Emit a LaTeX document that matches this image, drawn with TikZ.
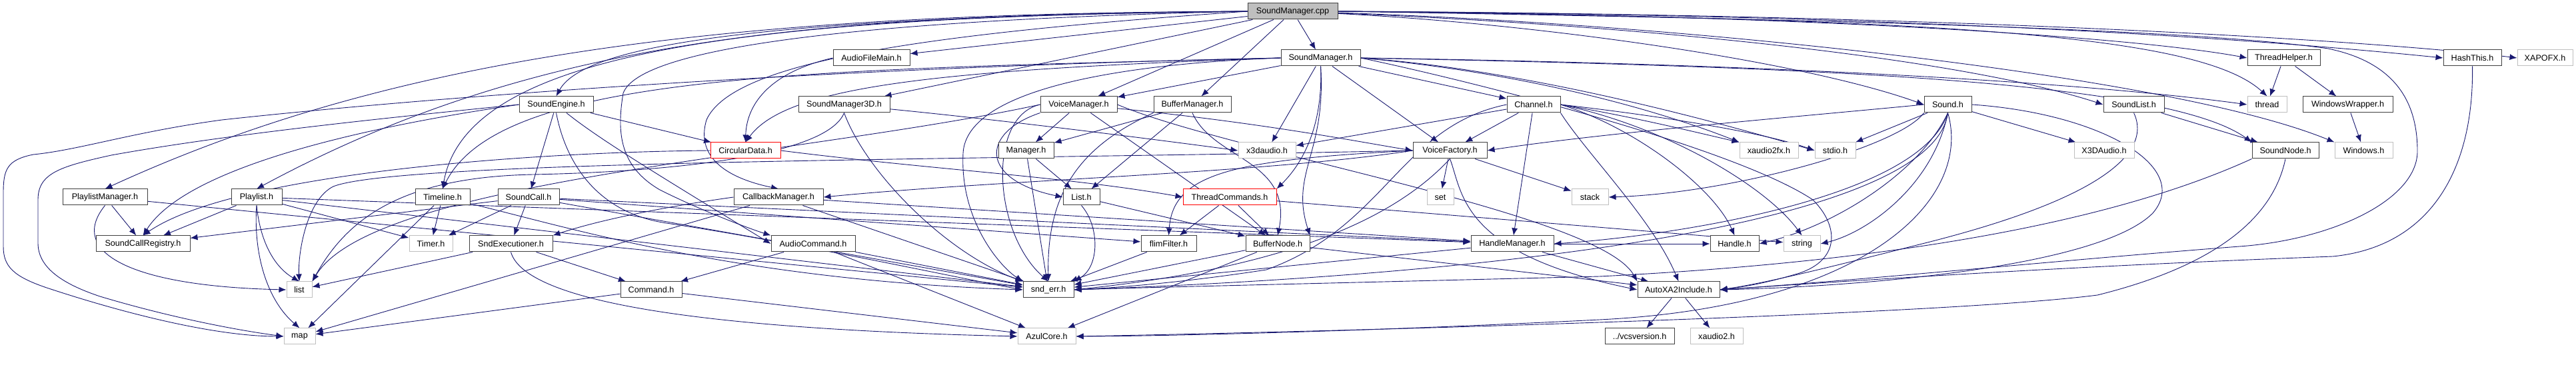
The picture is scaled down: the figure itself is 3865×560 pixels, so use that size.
\documentclass[tikz,border=0pt]{standalone}
\usepackage{fontspec}
\setmainfont{Liberation Sans}
\usetikzlibrary{arrows.meta}
\pgfdeclarelayer{bg}
\pgfsetlayers{bg,main}
\definecolor{edgec}{HTML}{191970}
\definecolor{bdark}{HTML}{404040}
\definecolor{blight}{HTML}{BFBFBF}
\definecolor{sfill}{HTML}{BFBFBF}
\begin{document}
\begin{tikzpicture}[x=0.5pt,y=-0.5pt,
 nb/.style={draw=bdark, line width=0.5pt, fill=white, minimum height=12pt, inner sep=0pt, font=\fontsize{6.3}{7}\selectfont},
 ng/.style={nb, draw=blight},
 nr/.style={nb, draw=red},
 e/.style={draw=edgec, line width=0.45pt, -{Latex[length=5.5pt,width=4.5pt]}}]
\useasboundingbox (0,0) rectangle (3865,560);
% row 0
\node[nb, fill=sfill, minimum width=67.5pt] (S0) at (1939.5,17) {SoundManager.cpp};
% row 1
\node[nb, minimum width=57.5pt] (AFM) at (1307.5,87) {AudioFileMain.h};
\node[nb, minimum width=59.5pt] (SMh) at (1981.5,87) {SoundManager.h};
\node[nb, minimum width=54.5pt] (TH) at (3426.5,87) {ThreadHelper.h};
\node[nb, minimum width=43.5pt] (HT) at (3709.5,87) {HashThis.h};
\node[ng, minimum width=41.5pt] (XAPO) at (3818.5,87) {XAPOFX.h};
% row 2
\node[nb, minimum width=55.5pt] (SE) at (834.5,157) {SoundEngine.h};
\node[nb, minimum width=68.5pt] (SM3D) at (1266.5,157) {SoundManager3D.h};
\node[nb, minimum width=57.5pt] (VM) at (1618.5,157) {VoiceManager.h};
\node[nb, minimum width=58pt] (BM) at (1789,157) {BufferManager.h};
\node[nb, minimum width=40pt] (CH) at (2301,157) {Channel.h};
\node[nb, minimum width=35.5pt] (SND) at (2922.5,157) {Sound.h};
\node[nb, minimum width=45.5pt] (SL) at (3201.5,157) {SoundList.h};
\node[ng, minimum width=29.5pt] (THR) at (3401.5,157) {thread};
\node[nb, minimum width=67.5pt] (WW) at (3522.5,157) {WindowsWrapper.h};
% row 3
\node[nr, minimum width=52.5pt] (CD) at (1118.5,226) {CircularData.h};
\node[nb, minimum width=41.5pt] (MGR) at (1539.5,226) {Manager.h};
\node[ng, minimum width=43pt] (X3d) at (1901,226) {x3daudio.h};
\node[nb, minimum width=55.5pt] (VF) at (2175.5,226) {VoiceFactory.h};
\node[ng, minimum width=44pt] (XFX) at (2654,226) {xaudio2fx.h};
\node[ng, minimum width=30.5pt] (STDIO) at (2753.5,226) {stdio.h};
\node[ng, minimum width=45pt] (X3D) at (3157,226) {X3DAudio.h};
\node[nb, minimum width=50pt] (SN) at (3429,226) {SoundNode.h};
\node[ng, minimum width=43.5pt] (WIN) at (3546.5,226) {Windows.h};
% row 4
\node[nb, minimum width=63.5pt] (PM) at (157.5,296) {PlaylistManager.h};
\node[nb, minimum width=38pt] (PL) at (385,296) {Playlist.h};
\node[nb, minimum width=41pt] (TL) at (664,296) {Timeline.h};
\node[nb, minimum width=46pt] (SC) at (793,296) {SoundCall.h};
\node[nb, minimum width=67pt] (CBM) at (1168,296) {CallbackManager.h};
\node[nb, minimum width=27.5pt] (LIST) at (1622.5,296) {List.h};
\node[nr, minimum width=70pt] (TC) at (1845,296) {ThreadCommands.h};
\node[ng, minimum width=20pt] (SET) at (2161,296) {set};
\node[ng, minimum width=27.5pt] (STACK) at (2385.5,296) {stack};
% row 5
\node[nb, minimum width=70.5pt] (SCR) at (214.5,366) {SoundCallRegistry.h};
\node[ng, minimum width=32.5pt] (TIMER) at (646.5,366) {Timer.h};
\node[nb, minimum width=62.5pt] (SX) at (766.5,366) {SndExecutioner.h};
\node[nb, minimum width=63pt] (AC) at (1220,366) {AudioCommand.h};
\node[nb, minimum width=41.5pt] (FF) at (1753.5,366) {flimFilter.h};
\node[nb, minimum width=48pt] (BN) at (1917,366) {BufferNode.h};
\node[nb, minimum width=62pt] (HM) at (2269,366) {HandleManager.h};
\node[nb, minimum width=36.5pt] (HDL) at (2602.5,366) {Handle.h};
\node[ng, minimum width=27.5pt] (STR) at (2703.5,366) {string};
% row 6
\node[ng, minimum width=19pt] (stdlist) at (449,435) {list};
\node[nb, minimum width=46pt] (CMD) at (977,435) {Command.h};
\node[nb, minimum width=38pt] (SERR) at (1573,435) {snd\_err.h};
\node[nb, minimum width=61.5pt] (AXA) at (2518.5,435) {AutoXA2Include.h};
% row 7
\node[ng, minimum width=23.5pt] (smap) at (449.5,505) {map};
\node[ng, minimum width=43.5pt] (AZ) at (1570.5,505) {AzulCore.h};
\node[nb, minimum width=52pt] (VCS) at (2460,505) {../vcsversion.h};
\node[ng, minimum width=39.5pt] (XA2) at (2575.5,505) {xaudio2.h};

\begin{pgfonlayer}{bg}
% SoundManager.cpp
\draw[e] (S0) -- (AFM);
\draw[e] (S0) -- (SMh);
\draw[e] (S0.east) .. controls (2700,22) and (3200,55) .. (TH.west);
\draw[e] (S0.east) .. controls (2900,22) and (3400,60) .. (HT.west);
\draw[e] (S0.east) .. controls (3000,22) and (3600,65) .. (XAPO.west);
\draw[e] (S0.east) .. controls (2900,28) and (3300,50) .. (THR.north);
\draw[e] (S0) .. controls (2300,35) and (2700,90) .. (SND.west);
\draw[e] (S0) .. controls (2500,40) and (2950,90) .. (SL.west);
\draw[e] (S0) .. controls (2500,35) and (3250,110) .. (WIN.north west);
\draw[e] (S0.east) .. controls (2800,30) and (3300,45) .. (3493,73) .. controls (3600,95) and (3627,160) .. (3627,227) .. controls (3627,300) and (3500,360) .. (3360,370) .. controls (3100,390) and (2800,420) .. (AXA.east);
\draw[e] (S0.west) .. controls (1200,25) and (880,60) .. (SE.north);
\draw[e] (S0) -- (SM3D);
\draw[e] (S0) -- (VM);
\draw[e] (S0) -- (BM);
\draw[e] (S0.west) .. controls (1100,20) and (600,80) .. (PM.north);
\draw[e] (S0.west) .. controls (1200,22) and (800,60) .. (PL.north);
\draw[e] (S0.west) .. controls (1100,25) and (700,80) .. (TL.north);
\draw[e] (S0.west) .. controls (1400,50) and (1100,90) .. (1060,180) .. controls (1045,230) and (1080,265) .. (CBM.north);
\draw[e] (S0.west) .. controls (1300,30) and (960,70) .. (935,140) .. controls (925,200) and (930,250) .. (990,285) .. controls (1060,320) and (1130,345) .. (AC.north west);
% SoundManager.h
\draw[e] (SMh) -- (VM);
\draw[e] (SMh) -- (CH);
\draw[e] (SMh) -- (VF);
\draw[e] (SMh) -- (X3d);
\draw[e] (SMh.west) .. controls (1400,105) and (1180,130) .. (CD.north);
\draw[e] (SMh.west) .. controls (1200,105) and (750,110) .. (TL.north);
\draw[e] (SMh.west) .. controls (1300,100) and (700,140) .. (333,180) .. controls (200,198) and (120,225) .. (50,232) .. controls (10,240) and (5,255) .. (5,290) -- (5,370) .. controls (5,400) and (20,415) .. (70,432) .. controls (200,475) and (330,505) .. (smap.west);
\draw[e] (SMh.south) .. controls (1985,180) and (1960,240) .. (TC.north east);
\draw[e] (SMh.south) .. controls (1990,230) and (1935,260) .. (BN.north east);
\draw[e] (SMh.east) .. controls (2300,110) and (2500,170) .. (XFX.north west);
\draw[e] (SMh.east) .. controls (2300,105) and (2600,190) .. (STDIO.west);
\draw[e] (SMh.east) .. controls (2700,100) and (3250,120) .. (SN.north west);
\draw[e] (SMh.east) .. controls (2600,95) and (3100,120) .. (THR.west);
\draw[e] (SMh.east) .. controls (2200,120) and (2600,220) .. (2720,300) .. controls (2760,340) and (2760,390) .. (2700,410) .. controls (2650,425) and (2620,430) .. (AXA.east);
\draw[e] (SMh.west) .. controls (1700,95) and (1450,130) .. (1445,230) .. controls (1440,330) and (1500,400) .. (SERR.north west);
% SoundEngine.h
\draw[e] (SE.west) .. controls (600,175) and (350,200) .. (167,233) .. controls (90,250) and (57,260) .. (57,300) -- (57,365) .. controls (57,400) and (90,425) .. (150,445) .. controls (250,475) and (350,495) .. (smap.west);
\draw[e] (SE.west) .. controls (550,190) and (280,250) .. (SCR.north);
\draw[e] (SE) -- (CD);
\draw[e] (SE) -- (SC);
\draw[e] (SE) .. controls (900,210) and (1000,270) .. (AC.west);
\draw[e] (SE.south) .. controls (850,250) and (900,320) .. (1000,335) .. controls (1200,365) and (1450,420) .. (SERR.west);
% SoundManager3D.h
\draw[e] (SM3D.south) .. controls (1240,235) and (1000,258) .. (800,262) .. controls (600,266) and (520,330) .. (stdlist.north east);
\draw[e] (SM3D) .. controls (1500,180) and (1700,205) .. (X3d.west);
\draw[e] (SM3D.south) .. controls (1300,260) and (1420,380) .. (SERR.north west);
% VoiceManager.h
\draw[e] (VM) -- (MGR);
\draw[e] (VM.south west) .. controls (1470,200) and (1470,270) .. (LIST.west);
\draw[e] (VM) -- (BN);
\draw[e] (VM.west) .. controls (1480,175) and (1490,350) .. (SERR.north);
\draw[e] (VM) .. controls (1900,185) and (2050,215) .. (VF.west);
\draw[e] (VM.west) .. controls (1200,235) and (560,270) .. (stdlist.north east);
\draw[e] (VM.east) .. controls (1850,230) and (2400,320) .. (AXA.north west);
% BufferManager.h
\draw[e] (BM) -- (MGR);
\draw[e] (BM) -- (LIST);
\draw[e] (BM.south) .. controls (1820,240) and (1940,240) .. (BN.north);
\draw[e] (BM.south west) .. controls (1620,220) and (1570,290) .. (SERR.north);
% Manager, List, ThreadCommands
\draw[e] (MGR) -- (LIST);
\draw[e] (MGR) -- (SERR);
\draw[e] (LIST.south) .. controls (1650,340) and (1650,400) .. (SERR.north east);
\draw[e] (LIST) -- (BN);
\draw[e] (TC) -- (FF);
\draw[e] (TC) -- (BN);
\draw[e] (TC) -- (STR);
% CircularData, AudioFileMain
\draw[e] (CD.west) .. controls (800,228) and (350,260) .. (SCR.north);
\draw[e] (CD.east) .. controls (1400,255) and (1600,265) .. (TC.west);
\draw[e] (AFM.west) .. controls (1150,110) and (1120,160) .. (CD.north);
% Playlist side
\draw[e] (PM) -- (SCR);
\draw[e] (PM.south) .. controls (100,380) and (200,430) .. (stdlist.west);
\draw[e] (PM) -- (SERR);
\draw[e] (PL) -- (SCR);
\draw[e] (PL.south) .. controls (390,360) and (410,400) .. (stdlist.north);
\draw[e] (PL.south) .. controls (380,380) and (400,450) .. (smap.north);
\draw[e] (PL) -- (TIMER);
\draw[e] (PL) -- (SERR);
\draw[e] (PL) -- (HM);
\draw[e] (TL) -- (TIMER);
\draw[e] (TL) -- (smap);
\draw[e] (TL) .. controls (850,340) and (1100,420) .. (SERR.west);
\draw[e] (SC) -- (SCR);
\draw[e] (SC) -- (TIMER);
\draw[e] (SC) -- (SX);
\draw[e] (SC) -- (FF);
\draw[e] (SC) -- (HM);
\draw[e] (SC) -- (SERR);
% commands
\draw[e] (SX) -- (CMD);
\draw[e] (SX) -- (stdlist);
\draw[e] (SX.south) .. controls (790,460) and (1100,495) .. (AZ.west);
\draw[e] (CMD) -- (smap);
\draw[e] (CMD) -- (AZ);
\draw[e] (AC) -- (CMD);
\draw[e] (AC) -- (SERR);
\draw[e] (AC) -- (AZ);
\draw[e] (CBM) -- (smap);
\draw[e] (CBM.west) .. controls (1000,310) and (900,330) .. (SX.north east);
\draw[e] (CBM) -- (SERR);
\draw[e] (CBM) -- (HM);
% VoiceFactory.h
\draw[e] (VF) -- (SET);
\draw[e] (VF) -- (STACK);
\draw[e] (VF.west) .. controls (1500,240) and (600,240) .. (500,280) .. controls (460,300) and (447,380) .. (stdlist.north);
\draw[e] (VF.west) .. controls (1850,240) and (1760,260) .. (FF.north);
\draw[e] (VF.west) .. controls (1900,260) and (1500,270) .. (CBM.east);
\draw[e] (VF.south) .. controls (2100,320) and (1950,400) .. (SERR.east);
\draw[e] (VF.south) .. controls (2195,290) and (2190,380) .. (AXA.west);
% Channel.h
\draw[e] (CH) -- (X3d);
\draw[e] (CH) -- (VF);
\draw[e] (CH) -- (HM);
\draw[e] (CH.west) .. controls (2100,190) and (2080,340) .. (1900,405) .. controls (1750,428) and (1650,433) .. (SERR.east);
\draw[e] (CH.east) .. controls (2450,175) and (2550,200) .. (XFX.north west);
\draw[e] (CH.east) .. controls (2500,175) and (2650,200) .. (STDIO.west);
\draw[e] (CH.east) .. controls (2450,190) and (2570,280) .. (HDL.north);
\draw[e] (CH.east) .. controls (2500,190) and (2650,280) .. (STR.north);
\draw[e] (CH.south east) .. controls (2380,230) and (2480,330) .. (AXA.north);
% Sound.h
\draw[e] (SND) -- (STDIO);
\draw[e] (SND) -- (X3D);
\draw[e] (SND.south west) .. controls (2850,220) and (2600,290) .. (STACK.east);
\draw[e] (SND.west) .. controls (2700,175) and (2400,200) .. (VF.east);
\draw[e] (SND.south) .. controls (2880,260) and (2750,340) .. (HDL.east);
\draw[e] (SND.south) .. controls (2900,280) and (2800,350) .. (STR.east);
\draw[e] (SND.south) .. controls (2880,300) and (2500,355) .. (HM.east);
\draw[e] (SND.south) .. controls (2900,330) and (2300,410) .. (SERR.east);
\draw[e] (SND.east) .. controls (3150,170) and (3290,250) .. (3230,320) .. controls (3150,400) and (2800,430) .. (AXA.east);
\draw[e] (SND.south) .. controls (2960,300) and (2800,460) .. (2400,480) .. controls (2000,500) and (1700,505) .. (AZ.east);
% SoundList, SoundNode, HashThis, ThreadHelper
\draw[e] (SL) -- (SN);
\draw[e] (SL.south) .. controls (3230,230) and (3150,300) .. (2880,367) .. controls (2750,400) and (2650,425) .. (AXA.east);
\draw[e] (SN.south) .. controls (3410,330) and (3320,400) .. (3147,443) .. controls (2900,475) and (1900,500) .. (AZ.east);
\draw[e] (SN.south west) .. controls (3200,320) and (2900,390) .. (2400,415) .. controls (2000,425) and (1700,432) .. (SERR.east);
\draw[e] (HT.south) .. controls (3712,250) and (3650,370) .. (3500,385) .. controls (3100,400) and (2800,420) .. (AXA.east);
\draw[e] (TH) -- (THR);
\draw[e] (TH) -- (WW);
\draw[e] (WW) -- (WIN);
% lower nodes
\draw[e] (HM) -- (SERR);
\draw[e] (HM) -- (AXA);
\draw[e] (HM) -- (HDL);
\draw[e] (BN) -- (SERR);
\draw[e] (BN) -- (AXA);
\draw[e] (BN) -- (AZ);
\draw[e] (FF) -- (SERR);
\draw[e] (AXA) -- (VCS);
\draw[e] (AXA) -- (XA2);
\end{pgfonlayer}
\end{tikzpicture}
\end{document}
